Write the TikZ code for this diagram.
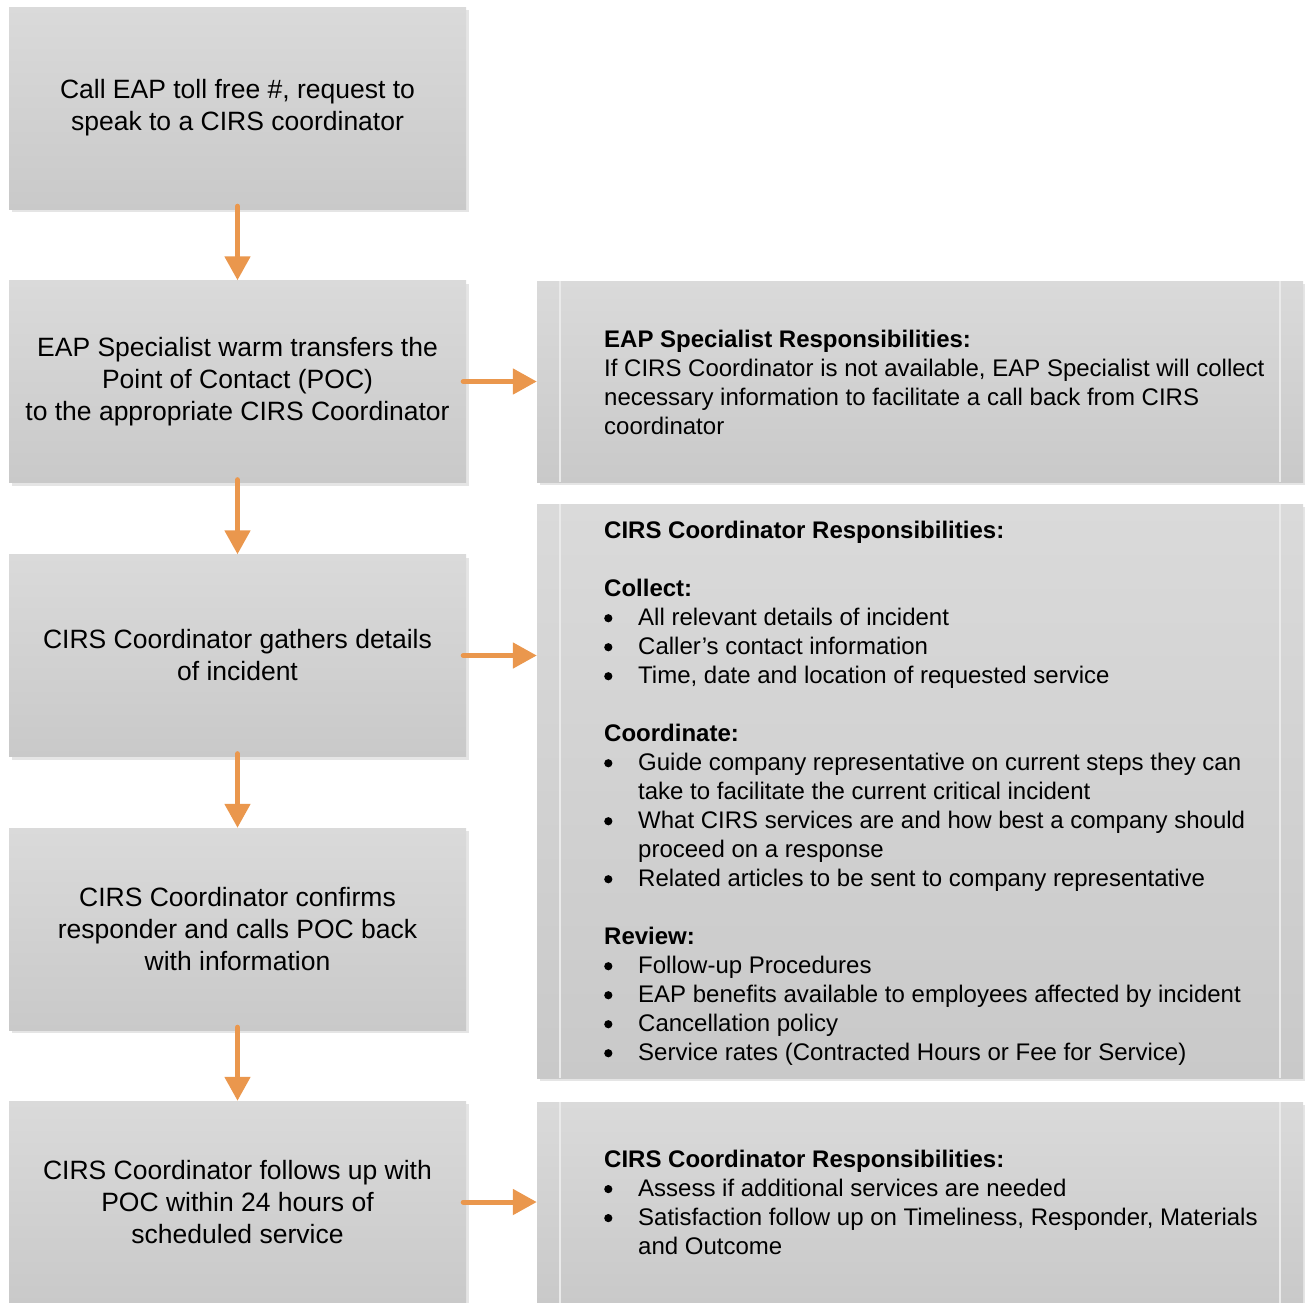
\documentclass[tikz,border=0pt]{standalone}
\usepackage{fontspec}
\setmainfont{Liberation Sans}
\usetikzlibrary{arrows.meta,shadows}
\definecolor{arrowc}{RGB}{234,151,77}
\definecolor{boxtop}{RGB}{218,218,218}
\definecolor{boxbot}{RGB}{201,201,201}
\definecolor{shadc}{RGB}{229,229,229}
\definecolor{innerl}{RGB}{234,234,234}
\newcommand{\itemmark}{\makebox[34pt][l]{\raisebox{2.9pt}{\tikz\fill[black] (0,0) circle[radius=4.1pt];}}}
\newcommand{\contind}{\hspace*{34pt}}
\begin{document}
\begin{tikzpicture}[x=1pt,y=-1pt,
  stepbox/.style={rectangle, inner sep=0pt, draw=none, top color=boxtop, bottom color=boxbot,
    general shadow={fill=shadc, shadow xshift=3pt, shadow yshift=-3pt}},
  leftbox/.style={stepbox, minimum width=457pt, minimum height=202pt, align=center,
    font=\fontsize{26.5}{32}\selectfont},
  rightbox/.style={stepbox, minimum width=766pt},
  rtext/.style={inner sep=0pt, align=left, anchor=west, font=\fontsize{24}{29}\selectfont},
  innerline/.style={draw=innerl, line width=1.5pt},
  flow/.style={draw=arrowc, line width=5pt, line cap=round, shorten <=-3pt,
    -{Triangle[width=25pt,length=24pt]}}
]
\useasboundingbox (0,0) rectangle (1305,1302);

% left column
\node[leftbox] (b1) at (237.5,108) {Call EAP toll free \#, request to\\speak to a CIRS coordinator};
\node[leftbox] (b2) at (237.5,381.5) {EAP Specialist warm transfers the\\Point of Contact (POC)\\to the appropriate CIRS Coordinator};
\node[leftbox] (b3) at (237.5,655.5) {CIRS Coordinator gathers details\\of incident};
\node[leftbox] (b4) at (237.5,929) {CIRS Coordinator confirms\\responder and calls POC back\\with information};
\node[leftbox] (b5) at (237.5,1202) {CIRS Coordinator follows up with\\POC within 24 hours of\\scheduled service};

% right column boxes
\node[rightbox, minimum height=201pt] (r1) at (920,381.5) {};
\node[rightbox, minimum height=574pt] (r2) at (920,791) {};
\node[rightbox, minimum height=201pt] (r3) at (920,1202.5) {};

\foreach \r in {r1,r2,r3}{
  \draw[innerline] ([xshift=23pt]\r.north west) -- ([xshift=23pt]\r.south west);
  \draw[innerline] ([xshift=-23pt]\r.north east) -- ([xshift=-23pt]\r.south east);
}

% right column texts
\node[rtext] (t1) at (604,382) {\textbf{EAP Specialist Responsibilities:}\\
If CIRS Coordinator is not available, EAP Specialist will collect\\
necessary information to facilitate a call back from CIRS\\
coordinator};

\node[rtext] (t2) at (604,793) {\textbf{CIRS Coordinator Responsibilities:}\\[29pt]
\textbf{Collect:}\\
\itemmark All relevant details of incident\\
\itemmark Caller’s contact information\\
\itemmark Time, date and location of requested service\\[29pt]
\textbf{Coordinate:}\\
\itemmark Guide company representative on current steps they can\\
\contind take to facilitate the current critical incident\\
\itemmark What CIRS services are and how best a company should\\
\contind proceed on a response\\
\itemmark Related articles to be sent to company representative\\[29pt]
\textbf{Review:}\\
\itemmark Follow-up Procedures\\
\itemmark EAP benefits available to employees affected by incident\\
\itemmark Cancellation policy\\
\itemmark Service rates (Contracted Hours or Fee for Service)};

\node[rtext] (t3) at (604,1202) {\textbf{CIRS Coordinator Responsibilities:}\\
\itemmark Assess if additional services are needed\\
\itemmark Satisfaction follow up on Timeliness, Responder, Materials\\
\contind and Outcome};

% connectors
\draw[flow] (b1.south) -- (b2.north);
\draw[flow] (b2.south) -- (b3.north);
\draw[flow] (b3.south) -- (b4.north);
\draw[flow] (b4.south) -- (b5.north);
\draw[flow] (b2.east) -- (b2.east -| r1.west);
\draw[flow] (b3.east) -- (b3.east -| r2.west);
\draw[flow] (b5.east) -- (b5.east -| r3.west);
\end{tikzpicture}
\end{document}
